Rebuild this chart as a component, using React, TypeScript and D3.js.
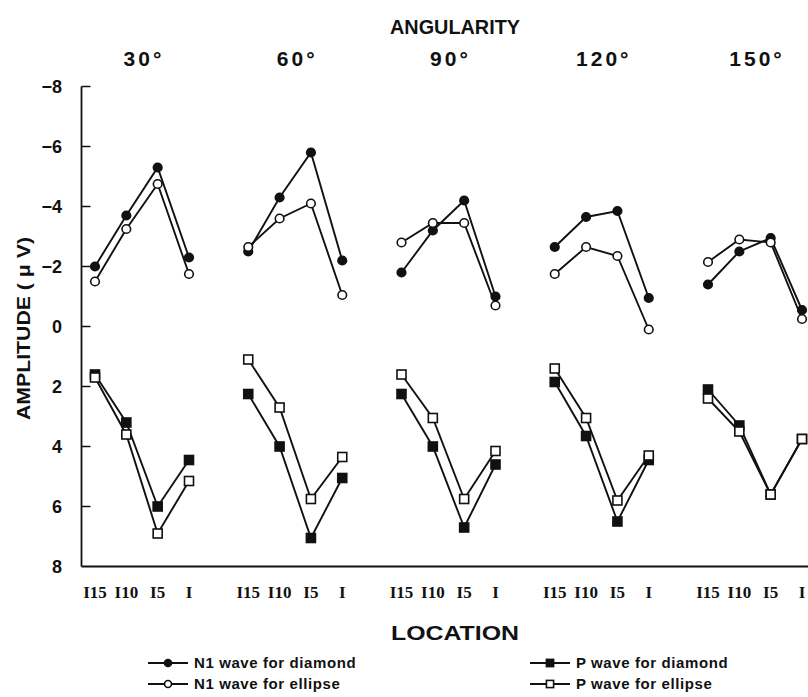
import React from "react";
import * as d3 from "d3";

const angles = ["30°", "60°", "90°", "120°", "150°"];
const locations = ["I15", "I10", "I5", "I"];
const yTicks = [-8, -6, -4, -2, 0, 2, 4, 6, 8];

const n1Diamond = [
  [-2.0, -3.7, -5.3, -2.3],
  [-2.5, -4.3, -5.8, -2.2],
  [-1.8, -3.2, -4.2, -1.0],
  [-2.65, -3.65, -3.85, -0.95],
  [-1.4, -2.5, -2.95, -0.55],
];
const n1Ellipse = [
  [-1.5, -3.25, -4.75, -1.75],
  [-2.65, -3.6, -4.1, -1.05],
  [-2.8, -3.45, -3.45, -0.7],
  [-1.75, -2.65, -2.35, 0.1],
  [-2.15, -2.9, -2.8, -0.25],
];
const pDiamond = [
  [1.6, 3.2, 6.0, 4.45],
  [2.25, 4.0, 7.05, 5.05],
  [2.25, 4.0, 6.7, 4.6],
  [1.85, 3.65, 6.5, 4.45],
  [2.1, 3.3, 5.6, 3.75],
];
const pEllipse = [
  [1.7, 3.6, 6.9, 5.15],
  [1.1, 2.7, 5.75, 4.35],
  [1.6, 3.05, 5.75, 4.15],
  [1.4, 3.05, 5.8, 4.3],
  [2.4, 3.5, 5.6, 3.75],
];

const seriesNames = [
  "N1 wave for diamond",
  "N1 wave for ellipse",
  "P wave for diamond",
  "P wave for ellipse",
];

const W = 808;
const H = 697;
const axisX = 81.5;
const sans = "'Liberation Sans', Arial, sans-serif";
const serif = "'Liberation Serif', 'Times New Roman', serif";

export default function App() {
  const y = d3.scaleLinear().domain([-8, 8]).range([86.5, 566.5]);
  const gx = d3.scalePoint<string>().domain(angles).range([142, 755]);
  const lx = d3.scalePoint<string>().domain(locations).range([-47, 47]);
  const px = (g: number, i: number) => (gx(angles[g]) as number) + (lx(locations[i]) as number);
  const line = d3
    .line<[number, number]>()
    .x((d) => d[0])
    .y((d) => d[1]);

  const series = [
    { data: n1Diamond, shape: "circle", filled: true },
    { data: n1Ellipse, shape: "circle", filled: false },
    { data: pDiamond, shape: "square", filled: true },
    { data: pEllipse, shape: "square", filled: false },
  ];

  const marker = (shape: string, filled: boolean, cx: number, cy: number, key: string, s = 1) =>
    shape === "circle" ? (
      <circle key={key} cx={cx} cy={cy} r={4.3 * s} fill={filled ? "#111" : "#fff"} stroke="#111" strokeWidth={1.6} />
    ) : (
      <rect key={key} x={cx - 4.5 * s} y={cy - 4.5 * s} width={9 * s} height={9 * s} fill={filled ? "#111" : "#fff"} stroke="#111" strokeWidth={1.6} />
    );

  const legendItems = [
    { x0: 148, y: 663, ...series[0] },
    { x0: 148, y: 684, ...series[1] },
    { x0: 530, y: 663, ...series[2] },
    { x0: 530, y: 684, ...series[3] },
  ];

  return (
    <svg width={W} height={H} style={{ position: "absolute", left: 0, top: 0, background: "#fff" }}>
      <rect x={0} y={0} width={W} height={H} fill="#fff" />
      <text x={455} y={34} textAnchor="middle" fontFamily={sans} fontWeight="bold" fontSize={20} textLength={130} lengthAdjust="spacingAndGlyphs" fill="#111">
        ANGULARITY
      </text>
      {angles.map((a) => (
        <text key={a} x={(gx(a) as number) + 2} y={66} textAnchor="middle" fontFamily={sans} fontWeight="bold" fontSize={21} letterSpacing={3} fill="#111">
          {a}
        </text>
      ))}
      {/* axes */}
      <line x1={axisX} x2={axisX} y1={y(-8)} y2={y(8)} stroke="#111" strokeWidth={1.8} />
      <line x1={axisX} x2={W} y1={y(8)} y2={y(8)} stroke="#111" strokeWidth={1.8} />
      {yTicks.map((t) => (
        <g key={t}>
          {t !== 8 && <line x1={axisX} x2={axisX + 9} y1={y(t)} y2={y(t)} stroke="#111" strokeWidth={1.5} />}
          <text x={62} y={y(t)} dy="0.35em" textAnchor="end" fontFamily={sans} fontWeight="bold" fontSize={18} fill="#111">
            {t < 0 ? `−${Math.abs(t)}` : `${t}`}
          </text>
        </g>
      ))}
      <text transform={`translate(30,${y(0) + 2}) rotate(-90)`} textAnchor="middle" fontFamily={sans} fontWeight="bold" fontSize={18} textLength={183} lengthAdjust="spacingAndGlyphs" fill="#111">
        AMPLITUDE ( μ V)
      </text>
      {angles.map((a, g) =>
        locations.map((l, i) => (
          <text key={a + l} x={px(g, i)} y={598} textAnchor="middle" fontFamily={serif} fontWeight="bold" fontSize={17} fill="#111">
            {l}
          </text>
        ))
      )}
      <text x={455} y={640} textAnchor="middle" fontFamily={sans} fontWeight="bold" fontSize={20} textLength={128} lengthAdjust="spacingAndGlyphs" fill="#111">
        LOCATION
      </text>
      {/* data */}
      {series.map((s, si) =>
        s.data.map((vals, g) => (
          <path
            key={`l${si}-${g}`}
            d={line(vals.map((v, i) => [px(g, i), y(v)] as [number, number])) || ""}
            fill="none"
            stroke="#111"
            strokeWidth={1.9}
          />
        ))
      )}
      {series.map((s, si) =>
        s.data.map((vals, g) =>
          vals.map((v, i) => marker(s.shape, s.filled, px(g, i), y(v), `m${si}-${g}-${i}`))
        )
      )}
      {/* legend */}
      {legendItems.map((it, k) => (
        <g key={k}>
          <line x1={it.x0} x2={it.x0 + 40} y1={it.y} y2={it.y} stroke="#111" strokeWidth={1.8} />
          {marker(it.shape, it.filled, it.x0 + 20, it.y, `lg${k}`, 0.8)}
          <text x={it.x0 + 46} y={it.y} dy="0.35em" fontFamily={sans} fontWeight="bold" fontSize={15} letterSpacing={0.6} fill="#111">
            {seriesNames[k]}
          </text>
        </g>
      ))}
    </svg>
  );
}
